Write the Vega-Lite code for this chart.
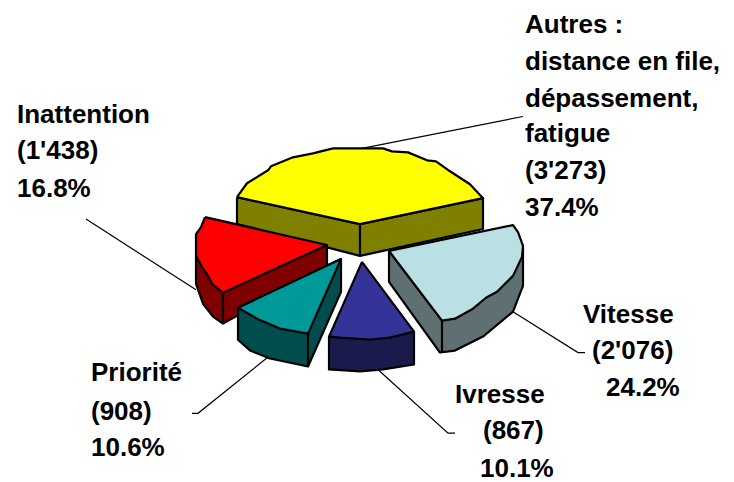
{"$schema":"https://vega.github.io/schema/vega-lite/v6.json","autosize":{"type":"fit","contains":"padding"},"padding":0,"width":734,"height":482,"background":"white","view":{"stroke":null},
"datasets":{
"faces":[
{"p":"a_side","i":1,"x":237,"y":198},{"p":"a_side","i":2,"x":360,"y":225},{"p":"a_side","i":3,"x":483,"y":199},{"p":"a_side","i":4,"x":483,"y":230},{"p":"a_side","i":5,"x":360,"y":257},{"p":"a_side","i":6,"x":237,"y":225},{"p":"a_side","i":7,"x":237,"y":198},
{"p":"a_top","i":1,"x":237,"y":198},{"p":"a_top","i":2,"x":247,"y":184},{"p":"a_top","i":3,"x":268,"y":171},{"p":"a_top","i":4,"x":271,"y":167},{"p":"a_top","i":5,"x":293,"y":158},{"p":"a_top","i":6,"x":313,"y":154},{"p":"a_top","i":7,"x":333,"y":149},{"p":"a_top","i":8,"x":383,"y":149},{"p":"a_top","i":9,"x":392,"y":152},{"p":"a_top","i":10,"x":408,"y":153},{"p":"a_top","i":11,"x":427,"y":161},{"p":"a_top","i":12,"x":436,"y":162},{"p":"a_top","i":13,"x":450,"y":172},{"p":"a_top","i":14,"x":470,"y":185},{"p":"a_top","i":15,"x":483,"y":199},{"p":"a_top","i":16,"x":360,"y":225},{"p":"a_top","i":17,"x":237,"y":198},
{"p":"b_side","i":1,"x":196,"y":257},{"p":"b_side","i":2,"x":327,"y":246},{"p":"b_side","i":3,"x":327,"y":267},{"p":"b_side","i":4,"x":223,"y":325},{"p":"b_side","i":5,"x":213,"y":318},{"p":"b_side","i":6,"x":203,"y":305},{"p":"b_side","i":7,"x":196,"y":285},{"p":"b_side","i":8,"x":196,"y":257},
{"p":"b_top","i":1,"x":205,"y":218},{"p":"b_top","i":2,"x":327,"y":246},{"p":"b_top","i":3,"x":223,"y":294},{"p":"b_top","i":4,"x":212,"y":285},{"p":"b_top","i":5,"x":208,"y":277},{"p":"b_top","i":6,"x":202,"y":268},{"p":"b_top","i":7,"x":196,"y":257},{"p":"b_top","i":8,"x":196,"y":235},{"p":"b_top","i":9,"x":201,"y":228},{"p":"b_top","i":10,"x":205,"y":218},
{"p":"b_edge","i":1,"x":223,"y":294},{"p":"b_edge","i":2,"x":223,"y":325},
{"p":"c_side","i":1,"x":238,"y":309},{"p":"c_side","i":2,"x":341,"y":260},{"p":"c_side","i":3,"x":341,"y":293},{"p":"c_side","i":4,"x":308,"y":368},{"p":"c_side","i":5,"x":270,"y":360},{"p":"c_side","i":6,"x":250,"y":352},{"p":"c_side","i":7,"x":238,"y":341},{"p":"c_side","i":8,"x":238,"y":309},
{"p":"c_top","i":1,"x":341,"y":260},{"p":"c_top","i":2,"x":308,"y":335},{"p":"c_top","i":3,"x":280,"y":330},{"p":"c_top","i":4,"x":257,"y":320},{"p":"c_top","i":5,"x":238,"y":309},{"p":"c_top","i":6,"x":341,"y":260},
{"p":"c_edge","i":1,"x":308,"y":335},{"p":"c_edge","i":2,"x":308,"y":368},
{"p":"d_side","i":1,"x":329,"y":338},{"p":"d_side","i":2,"x":414,"y":333},{"p":"d_side","i":3,"x":414,"y":366},{"p":"d_side","i":4,"x":383,"y":371},{"p":"d_side","i":5,"x":360,"y":373},{"p":"d_side","i":6,"x":329,"y":371},{"p":"d_side","i":7,"x":329,"y":338},
{"p":"d_top","i":1,"x":362,"y":263},{"p":"d_top","i":2,"x":414,"y":333},{"p":"d_top","i":3,"x":390,"y":339},{"p":"d_top","i":4,"x":370,"y":341},{"p":"d_top","i":5,"x":340,"y":339},{"p":"d_top","i":6,"x":329,"y":338},{"p":"d_top","i":7,"x":362,"y":263},
{"p":"e_side","i":1,"x":389,"y":252},{"p":"e_side","i":2,"x":442,"y":322},{"p":"e_side","i":3,"x":523,"y":247},{"p":"e_side","i":4,"x":523,"y":287},{"p":"e_side","i":5,"x":513,"y":313},{"p":"e_side","i":6,"x":483,"y":338},{"p":"e_side","i":7,"x":455,"y":352},{"p":"e_side","i":8,"x":440,"y":354},{"p":"e_side","i":9,"x":389,"y":283},{"p":"e_side","i":10,"x":389,"y":252},
{"p":"e_top","i":1,"x":389,"y":252},{"p":"e_top","i":2,"x":513,"y":226},{"p":"e_top","i":3,"x":518,"y":233},{"p":"e_top","i":4,"x":523,"y":247},{"p":"e_top","i":5,"x":522,"y":258},{"p":"e_top","i":6,"x":513,"y":277},{"p":"e_top","i":7,"x":497,"y":293},{"p":"e_top","i":8,"x":486,"y":299},{"p":"e_top","i":9,"x":473,"y":310},{"p":"e_top","i":10,"x":455,"y":320},{"p":"e_top","i":11,"x":442,"y":322},{"p":"e_top","i":12,"x":389,"y":252},
{"p":"e_edge","i":1,"x":442,"y":322},{"p":"e_edge","i":2,"x":442,"y":354},
{"p":"a_edge","i":1,"x":360,"y":225},{"p":"a_edge","i":2,"x":360,"y":257}
],
"leaders":[
{"s":"Autres","i":1,"x":362,"y":149},{"s":"Autres","i":2,"x":523,"y":117},
{"s":"Inattention","i":1,"x":86,"y":220},{"s":"Inattention","i":2,"x":196,"y":291},
{"s":"Vitesse","i":1,"x":513,"y":313},{"s":"Vitesse","i":2,"x":578,"y":354},{"s":"Vitesse","i":3,"x":585,"y":354},
{"s":"Priorité","i":1,"x":270,"y":357},{"s":"Priorité","i":2,"x":198,"y":415},{"s":"Priorité","i":3,"x":192,"y":415},
{"s":"Ivresse","i":1,"x":379,"y":372},{"s":"Ivresse","i":2,"x":448,"y":435},{"s":"Ivresse","i":3,"x":455,"y":435}
],
"labels":[
{"t":"Autres :","x":525,"y":25},{"t":"distance en file,","x":525,"y":62},{"t":"dépassement,","x":525,"y":99},{"t":"fatigue","x":525,"y":135},{"t":"(3'273)","x":525,"y":172},{"t":"37.4%","x":525,"y":209},
{"t":"Inattention","x":17,"y":115},{"t":"(1'438)","x":17,"y":152},{"t":"16.8%","x":17,"y":190},
{"t":"Vitesse","x":583,"y":316},{"t":"(2'076)","x":592,"y":352},{"t":"24.2%","x":606,"y":390},
{"t":"Priorité","x":91,"y":375},{"t":"(908)","x":91,"y":414},{"t":"10.6%","x":91,"y":450},
{"t":"Ivresse","x":455,"y":397},{"t":"(867)","x":483,"y":433},{"t":"10.1%","x":480,"y":471}
]},
"layer":[
{"data":{"name":"leaders"},"mark":{"type":"line","stroke":"black","strokeWidth":1.2,"interpolate":"linear"},"encoding":{"x":{"field":"x","type":"quantitative","scale":{"domain":[0,734],"nice":false,"zero":false},"axis":null},"y":{"field":"y","type":"quantitative","scale":{"domain":[482,0],"nice":false,"zero":false},"axis":null},"detail":{"field":"s"},"order":{"field":"i"}}},
{"data":{"name":"faces"},"mark":{"type":"line","stroke":"black","strokeWidth":2.2,"strokeJoin":"round"},"encoding":{"x":{"field":"x","type":"quantitative","scale":{"domain":[0,734],"nice":false,"zero":false},"axis":null},"y":{"field":"y","type":"quantitative","scale":{"domain":[482,0],"nice":false,"zero":false},"axis":null},"detail":{"field":"p"},"order":{"field":"i"},"fill":{"field":"p","type":"nominal","legend":null,"scale":{"domain":["a_side","a_top","a_edge","b_side","b_top","b_edge","c_side","c_top","c_edge","d_side","d_top","e_side","e_top","e_edge"],"range":["#808000","#FFFF00","transparent","#800000","#FF0000","transparent","#004D4D","#009999","transparent","#1A1A4D","#333399","#5E7072","#BBE0E3","transparent"]}}}},
{"data":{"name":"labels"},"mark":{"type":"text","font":"Liberation Sans","fontWeight":"bold","fontSize":26,"align":"left","baseline":"middle","color":"black"},"encoding":{"x":{"field":"x","type":"quantitative","scale":{"domain":[0,734],"nice":false,"zero":false},"axis":null},"y":{"field":"y","type":"quantitative","scale":{"domain":[482,0],"nice":false,"zero":false},"axis":null},"text":{"field":"t"}}}
]}
